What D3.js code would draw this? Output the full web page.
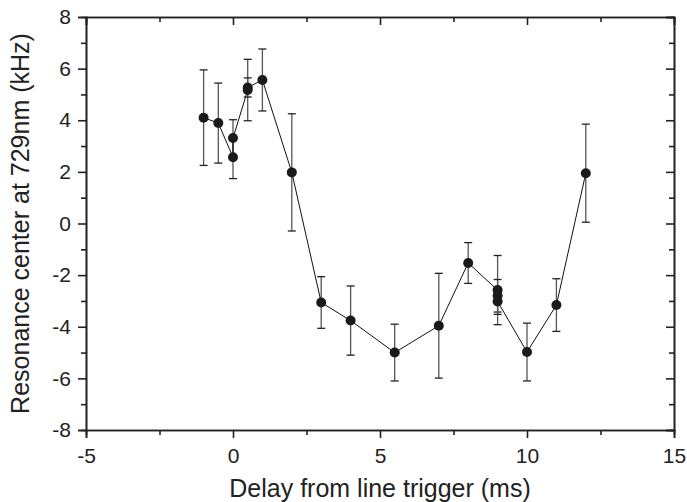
<!DOCTYPE html>
<html>
<head>
<meta charset="utf-8">
<script src="https://cdn.jsdelivr.net/npm/d3@7"></script>
<style>
  body { margin: 0; background: #fff; }
  svg { font-family: "Liberation Sans", Arial, sans-serif; }
</style>
</head>
<body>
<div id="chart"></div>
<script>
// delay (ms), resonance shift (kHz), error (kHz) -- in plotting order
const delays = [-1, -0.5, 0, 0, 0.5, 0.5, 1, 2, 3, 4, 5.5, 7, 8, 9, 9, 9, 10, 11, 12];
const centers = [4.1, 3.89, 2.57, 3.31, 5.17, 5.27, 5.56, 1.98, -3.06, -3.76, -5.0, -3.96, -1.53, -2.58, -2.8, -3.02, -4.98, -3.16, 1.95];
const errors = [1.85, 1.55, 0.83, 0.71, 1.19, 0.37, 1.2, 2.27, 1.0, 1.34, 1.1, 2.03, 0.79, 1.34, 0.63, 0.5, 1.12, 1.02, 1.9];

const xTicks = [-5, 0, 5, 10, 15];
const yTicks = [-8, -6, -4, -2, 0, 2, 4, 6, 8];

const W = 687, H = 502;
const margin = { left: 86, right: 13, top: 17, bottom: 72 };

const svg = d3.select("#chart").append("svg")
  .attr("width", W)
  .attr("height", H);

const x = d3.scaleLinear().domain([-5, 15]).range([margin.left, W - margin.right]);
const y = d3.scaleLinear().domain([-8, 8]).range([H - margin.bottom, margin.top]);

const xMinor = d3.range(-5, 15.01, 2.5).filter(v => !xTicks.includes(v));
const yMinor = d3.range(-7, 8, 2);
const fmt = d => String(d); // plain hyphen minus, like the original

const MAJ = 8, MIN = 5;

function styleAxis(g) {
  g.select(".domain").attr("stroke", "#222").attr("stroke-width", 1.6);
  g.selectAll(".tick line").attr("stroke", "#222").attr("stroke-width", 1.6);
  g.selectAll(".tick text").attr("font-size", 21).attr("fill", "#222");
}

// bottom + left: outward ticks with labels
svg.append("g")
  .attr("transform", `translate(0,${y(-8)})`)
  .call(d3.axisBottom(x).tickValues(xTicks).tickSizeOuter(0).tickSize(MAJ).tickPadding(10).tickFormat(fmt))
  .call(styleAxis);
svg.append("g")
  .attr("transform", `translate(0,${y(-8)})`)
  .call(d3.axisBottom(x).tickValues(xMinor).tickSize(MIN).tickFormat(""))
  .call(styleAxis);

svg.append("g")
  .attr("transform", `translate(${x(-5)},0)`)
  .call(d3.axisLeft(y).tickValues(yTicks).tickSizeOuter(0).tickSize(MAJ).tickPadding(7).tickFormat(fmt))
  .call(styleAxis);
svg.append("g")
  .attr("transform", `translate(${x(-5)},0)`)
  .call(d3.axisLeft(y).tickValues(yMinor).tickSize(MIN).tickFormat(""))
  .call(styleAxis);

// top + right: inward ticks, no labels
svg.append("g")
  .attr("transform", `translate(0,${y(8)})`)
  .call(d3.axisBottom(x).tickValues(xTicks).tickSizeOuter(0).tickSize(MAJ).tickFormat(""))
  .call(styleAxis);
svg.append("g")
  .attr("transform", `translate(0,${y(8)})`)
  .call(d3.axisBottom(x).tickValues(xMinor).tickSize(MIN).tickFormat(""))
  .call(styleAxis);
svg.append("g")
  .attr("transform", `translate(${x(15)},0)`)
  .call(d3.axisRight(y).tickValues(yTicks).tickSizeOuter(0).tickSize(-MAJ).tickFormat(""))
  .call(styleAxis);
svg.append("g")
  .attr("transform", `translate(${x(15)},0)`)
  .call(d3.axisRight(y).tickValues(yMinor).tickSize(-MIN).tickFormat(""))
  .call(styleAxis);

const pts = delays.map((d, i) => ({ x: d, y: centers[i], e: errors[i] }));

// error bars
const eb = svg.append("g").attr("stroke", "#555").attr("stroke-width", 1.3);
pts.forEach(p => {
  const cx = x(p.x);
  eb.append("line").attr("x1", cx).attr("x2", cx).attr("y1", y(p.y - p.e)).attr("y2", y(p.y + p.e));
  [p.y - p.e, p.y + p.e].forEach(v => {
    eb.append("line").attr("x1", cx - 4).attr("x2", cx + 4).attr("y1", y(v)).attr("y2", y(v)).attr("stroke", "#222");
  });
});

// connecting line
svg.append("path")
  .datum(pts)
  .attr("fill", "none")
  .attr("stroke", "#111")
  .attr("stroke-width", 1)
  .attr("d", d3.line().x(d => x(d.x)).y(d => y(d.y)));

// markers
svg.append("g").selectAll("circle")
  .data(pts)
  .join("circle")
  .attr("cx", d => x(d.x))
  .attr("cy", d => y(d.y))
  .attr("r", 5)
  .attr("fill", "#1a1a1a");

// axis titles
svg.append("text")
  .attr("x", (x(-5) + x(15)) / 2)
  .attr("y", 497)
  .attr("text-anchor", "middle")
  .attr("font-size", 25)
  .attr("fill", "#222")
  .text("Delay from line trigger (ms)");

svg.append("text")
  .attr("transform", `translate(29,${(y(-8) + y(8)) / 2}) rotate(-90)`)
  .attr("text-anchor", "middle")
  .attr("font-size", 25)
  .attr("fill", "#222")
  .text("Resonance center at 729nm (kHz)");
</script>
</body>
</html>
